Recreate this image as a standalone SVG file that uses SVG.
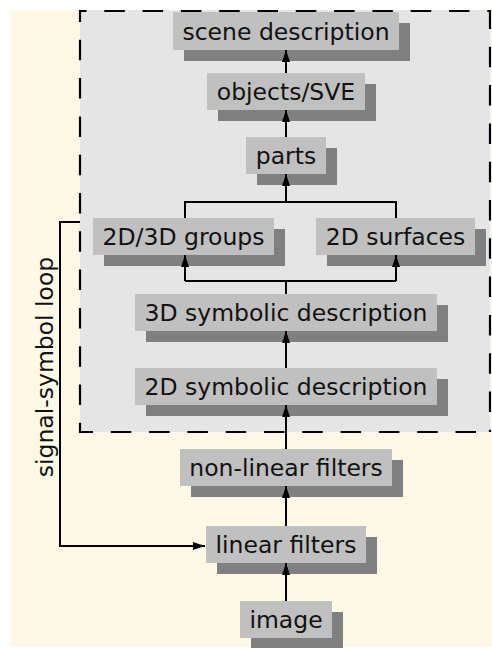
<svg xmlns="http://www.w3.org/2000/svg" width="492" height="648" viewBox="0 0 492 648">
  <style>
    .box { fill: #c0c0c0; }
    .shadow { fill: #808080; }
    .label { font-family: "DejaVu Sans", "Liberation Sans", sans-serif; font-size: 23.5px; fill: #111; text-anchor: middle; }
    .wire { fill: none; stroke: #000; stroke-width: 2; }
    .frame { stroke: #000; stroke-width: 2.2; stroke-dasharray: 20.5 17.8; }
  </style>
  <defs>
    <marker id="arrow" markerUnits="userSpaceOnUse" markerWidth="12" markerHeight="8" refX="12" refY="4" orient="auto">
      <path d="M0,0 L12,4 L0,8 z" fill="#000"/>
    </marker>
  </defs>

  <!-- backdrop -->
  <rect x="10" y="10" width="482" height="637" fill="#fef9e7"/>

  <!-- symbolic stage frame -->
  <g id="symbolic-frame">
    <rect x="80" y="10" width="410" height="422" fill="#e5e5e5"/>
    <line class="frame" x1="80" y1="11" x2="490" y2="11" stroke-dashoffset="14"/>
    <line class="frame" x1="490" y1="10" x2="490" y2="432" stroke-dashoffset="1.5"/>
    <line class="frame" x1="80" y1="432" x2="491" y2="432" stroke-dashoffset="7.5"/>
    <line class="frame" x1="80" y1="10" x2="80" y2="433" stroke-dashoffset="8.5"/>
  </g>

  <text class="label" transform="translate(53,367) rotate(-90)">signal-symbol loop</text>

  <g id="scene-description">
    <rect class="shadow" x="184" y="23" width="226" height="38"/>
    <rect class="box" x="173" y="12" width="226" height="38"/>
    <text class="label" x="286" y="39.5">scene description</text>
  </g>
  <g id="objects-sve">
    <rect class="shadow" x="218" y="84" width="158" height="37"/>
    <rect class="box" x="207" y="73" width="158" height="37"/>
    <text class="label" x="286" y="100">objects/SVE</text>
  </g>
  <g id="parts">
    <rect class="shadow" x="257" y="148" width="80" height="37"/>
    <rect class="box" x="246" y="137" width="80" height="37"/>
    <text class="label" x="286" y="164">parts</text>
  </g>
  <g id="groups-2d3d">
    <rect class="shadow" x="104" y="229" width="181" height="37"/>
    <rect class="box" x="93" y="218" width="181" height="37"/>
    <text class="label" x="183.5" y="245">2D/3D groups</text>
  </g>
  <g id="surfaces-2d">
    <rect class="shadow" x="327" y="229" width="159" height="37"/>
    <rect class="box" x="316" y="218" width="159" height="37"/>
    <text class="label" x="395.5" y="245">2D surfaces</text>
  </g>
  <g id="symbolic-3d">
    <rect class="shadow" x="146" y="305" width="302" height="37"/>
    <rect class="box" x="135" y="294" width="302" height="37"/>
    <text class="label" x="286" y="321">3D symbolic description</text>
  </g>
  <g id="symbolic-2d">
    <rect class="shadow" x="146" y="379" width="302" height="37"/>
    <rect class="box" x="135" y="368" width="302" height="37"/>
    <text class="label" x="286" y="395">2D symbolic description</text>
  </g>
  <g id="non-linear-filters">
    <rect class="shadow" x="191" y="460" width="212" height="37"/>
    <rect class="box" x="180" y="449" width="212" height="37"/>
    <text class="label" x="286" y="476">non-linear filters</text>
  </g>
  <g id="linear-filters">
    <rect class="shadow" x="217" y="537" width="160" height="37"/>
    <rect class="box" x="206" y="526" width="160" height="37"/>
    <text class="label" x="286" y="553">linear filters</text>
  </g>
  <g id="image">
    <rect class="shadow" x="251" y="612" width="92" height="37"/>
    <rect class="box" x="240" y="601" width="92" height="37"/>
    <text class="label" x="286" y="628">image</text>
  </g>

  <!-- connectors, drawn over the node shadows -->
  <g id="connectors">
    <line class="wire" x1="286" y1="73" x2="286" y2="50" marker-end="url(#arrow)"/>
    <line class="wire" x1="286" y1="137" x2="286" y2="110" marker-end="url(#arrow)"/>
    <line class="wire" x1="286" y1="202" x2="286" y2="174" marker-end="url(#arrow)"/>
    <path class="wire" d="M185,218 V202 H396 V218"/>
    <path class="wire" d="M286,294 V281"/>
    <path class="wire" d="M185,281 H396"/>
    <line class="wire" x1="185" y1="281" x2="185" y2="255" marker-end="url(#arrow)"/>
    <line class="wire" x1="396" y1="281" x2="396" y2="255" marker-end="url(#arrow)"/>
    <line class="wire" x1="286" y1="368" x2="286" y2="331" marker-end="url(#arrow)"/>
    <line class="wire" x1="286" y1="449" x2="286" y2="405" marker-end="url(#arrow)"/>
    <line class="wire" x1="286" y1="526" x2="286" y2="486" marker-end="url(#arrow)"/>
    <line class="wire" x1="286" y1="601" x2="286" y2="563" marker-end="url(#arrow)"/>
    <path class="wire" d="M80,222 H60 V546 H205" marker-end="url(#arrow)"/>
  </g>
</svg>
